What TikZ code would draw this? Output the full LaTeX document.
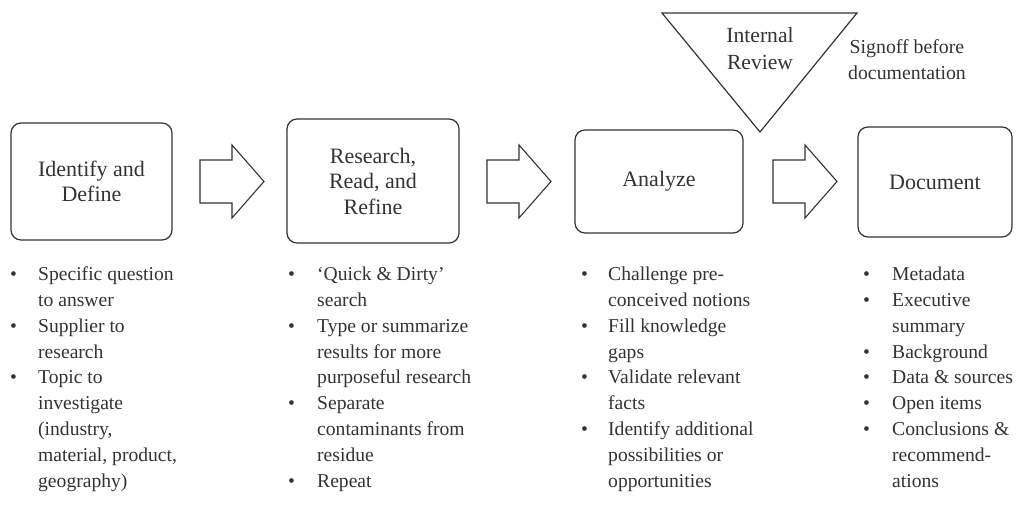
\documentclass[tikz,border=0pt]{standalone}
\usepackage{fontspec}
\setmainfont{Liberation Serif}
\usepackage{array}
\definecolor{ink}{HTML}{333333}
\tikzset{
  box/.style={draw=ink, line width=1.2pt, rounded corners=10pt, text=ink, align=center, font=\fontsize{22}{25.5}\selectfont},
  blockarrow/.style={draw=ink, line width=1.1pt, fill=white, line join=miter},
  lst/.style={anchor=north west, inner sep=0pt, text=ink, font=\fontsize{19.6}{25.9}\selectfont},
  lbl/.style={text=ink, align=center, font=\fontsize{19.8}{26}\selectfont}
}
\newcommand{\blt}{\textbullet}
\begin{document}
\begin{tikzpicture}[x=1pt,y=-1pt]
\useasboundingbox (0,0) rectangle (1021,508);
% boxes
\node[box, minimum width=161pt, minimum height=117pt] (b1) at (91.5,181.5) {Identify and\\Define};
\node[box, minimum width=172pt, minimum height=124pt] (b2) at (373,181) {Research,\\Read, and\\Refine};
\node[box, minimum width=168pt, minimum height=103pt] (b3) at (659,181.5) {Analyze};
\node[box, minimum width=154pt, minimum height=110pt] (b4) at (935,182) {Document};
% block arrows
\foreach \x in {200,487,773} {
  \draw[blockarrow] (\x,160) -- (\x+32,160) -- (\x+32,145) -- (\x+64,181.5) -- (\x+32,218) -- (\x+32,203) -- (\x,203) -- cycle;
}
% triangle
\draw[draw=ink, line width=1.2pt, line join=miter] (662,13) -- (857,13) -- (760,132) -- cycle;
\node[lbl, font=\fontsize{21.6}{27}\selectfont] (ir) at (760,49) {Internal\\Review};
\node[lbl] (so) at (907,60) {Signoff before\\documentation};
% lists
\node[lst] (l1) at (10,262) {\begin{tabular}{@{}p{28pt}@{}l@{}}
\blt & Specific question\\ & to answer\\
\blt & Supplier to\\ & research\\
\blt & Topic to\\ & investigate\\ & (industry,\\ & material, product,\\ & geography)
\end{tabular}};
\node[lst] (l2) at (288,262) {\begin{tabular}{@{}p{29pt}@{}l@{}}
\blt & `Quick \& Dirty'\\ & search\\
\blt & Type or summarize\\ & results for more\\ & purposeful research\\
\blt & Separate\\ & contaminants from\\ & residue\\
\blt & Repeat
\end{tabular}};
\node[lst] (l3) at (581,262) {\begin{tabular}{@{}p{27pt}@{}l@{}}
\blt & Challenge pre-\\ & conceived notions\\
\blt & Fill knowledge\\ & gaps\\
\blt & Validate relevant\\ & facts\\
\blt & Identify additional\\ & possibilities or\\ & opportunities
\end{tabular}};
\node[lst] (l4) at (863,262) {\begin{tabular}{@{}p{29pt}@{}l@{}}
\blt & Metadata\\
\blt & Executive\\ & summary\\
\blt & Background\\
\blt & Data \& sources\\
\blt & Open items\\
\blt & Conclusions \&\\ & recommend-\\ & ations
\end{tabular}};
\end{tikzpicture}
\end{document}
